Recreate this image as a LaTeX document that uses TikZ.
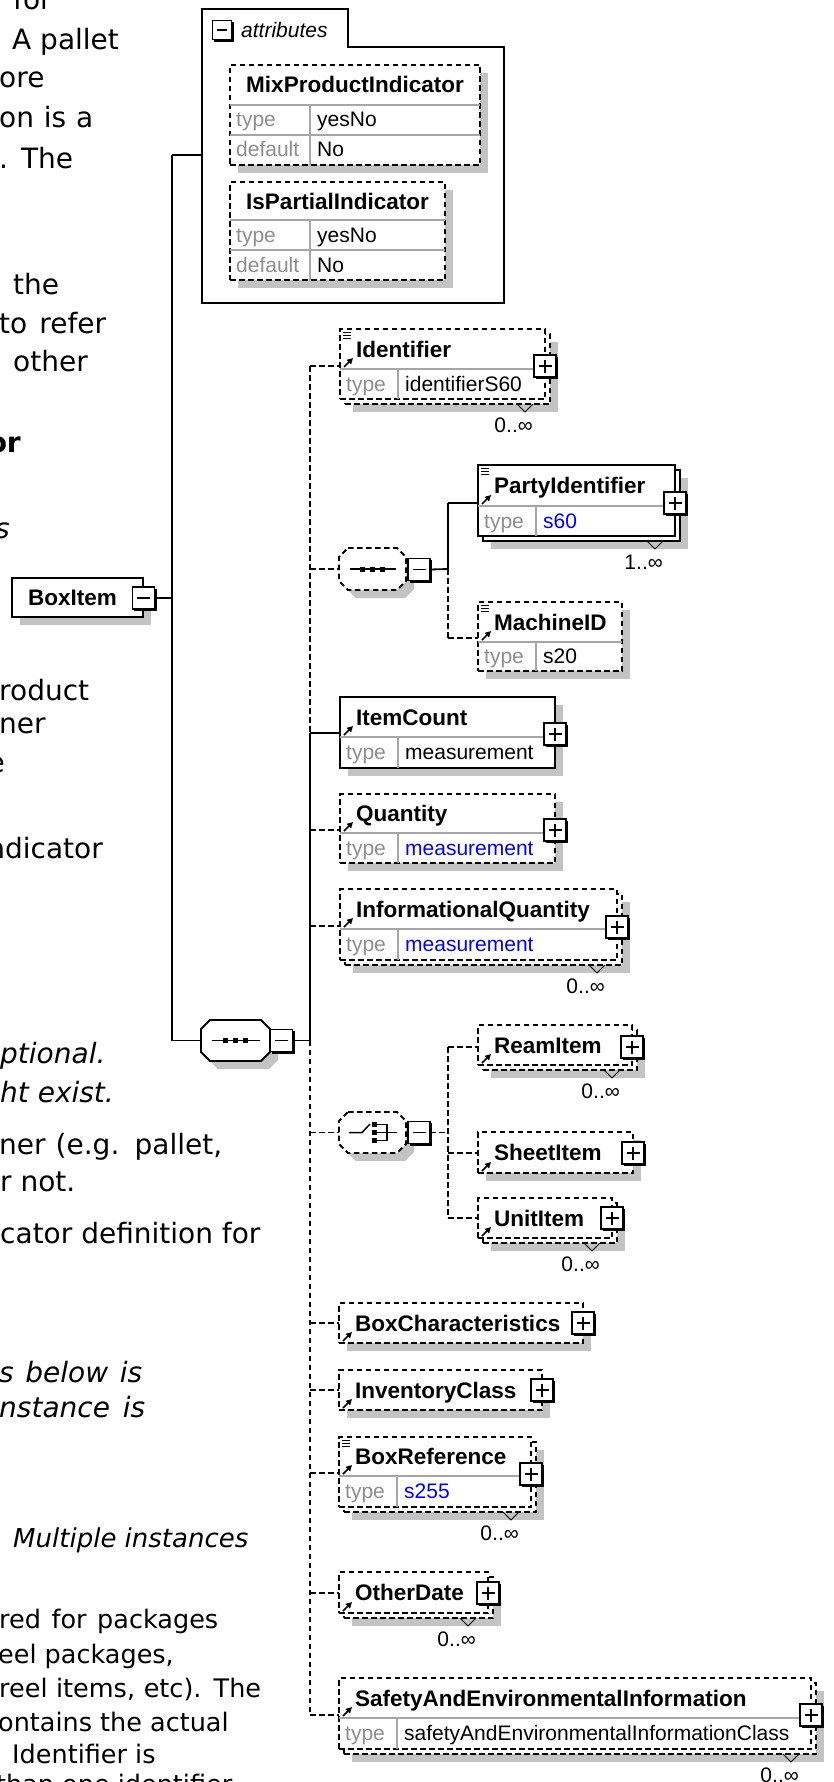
\documentclass[tikz,border=0pt]{standalone}
\usepackage{fontspec}
\setmainfont{Liberation Sans}
\newfontfamily\docfont{DejaVu Sans}
\usetikzlibrary{arrows.meta}

\definecolor{shgrey}{HTML}{C3C3C3}
\definecolor{rowgrey}{HTML}{A6A6A6}
\definecolor{tygrey}{HTML}{8E8E8E}
\definecolor{valblue}{HTML}{0000FF}

\tikzset{
 sline/.style={line width=1.8pt},
 dline/.style={line width=1.8pt, dash pattern=on 5.5pt off 3.5pt},
 ebox/.style={draw, fill=white, line width=1.8pt, inner sep=0pt, outer sep=0pt},
 solidb/.style={},
 dashb/.style={dash pattern=on 5.5pt off 3.5pt},
 rowline/.style={draw=rowgrey, line width=1.2pt},
 nametext/.style={inner sep=0pt, font=\fontsize{22.5}{27}\selectfont\bfseries},
 rowtext/.style={inner sep=0pt, font=\fontsize{21}{25}\selectfont},
 doctext/.style={inner sep=0pt, anchor=base west, font=\docfont\fontsize{28}{34}\selectfont},
 docital/.style={doctext, font=\docfont\fontsize{28}{34}\selectfont\itshape},
 docbold/.style={doctext, font=\docfont\fontsize{28}{34}\selectfont\bfseries},
 docsmall/.style={doctext, font=\docfont\fontsize{25.5}{31}\selectfont},
 docsmallit/.style={doctext, font=\docfont\fontsize{26}{31}\selectfont\itshape},
 rcut/.style={anchor=base east},
 iconbox/.style={draw, fill=white, line width=1.6pt, inner sep=0pt, outer sep=0pt},
 iconline/.style={line width=1.6pt},
 refarrow/.style={line width=1.7pt, -{Triangle[length=6pt,width=6pt]}},
 docline/.style={line width=1pt},
 multline/.style={line width=1pt},
 ghost/.style={inner sep=0pt, outer sep=0pt},
}

% single element box: id x1 y1 x2 y2 style
\newcommand\XSingle[6]{%
  \fill[shgrey] (#2+8,#3+8) rectangle (#4+8,#5+8);
  \node[ebox,#6,minimum width={#4pt-#2pt},minimum height={#5pt-#3pt},anchor=north west] (#1) at (#2,#3) {};}
% stacked element box (several occurrences)
\newcommand\XStack[6]{%
  \fill[shgrey] (#2+13,#3+13) rectangle (#4+13,#5+13);
  \node[ebox,#6,minimum width={#4pt-#2pt},minimum height={#5pt-#3pt},anchor=north west] (#1-back) at (#2+5,#3+5) {};
  \node[ebox,#6,minimum width={#4pt-#2pt},minimum height={#5pt-#3pt},anchor=north west] (#1) at (#2,#3) {};}
% type row: id x1 x2 yh y2 value colour
\newcommand\XType[7]{%
  \draw[rowline] (#2,#4) -- (#3,#4);
  \draw[rowline] (#2+58,#4) -- (#2+58,#5);
  \node[rowtext, text=tygrey, anchor=base west] (#1-tl) at (#2+6,{(#4+#5)/2+7}) {type};
  \node[rowtext, text=#7, anchor=base west] (#1-tv) at (#2+65,{(#4+#5)/2+7}) {#6};}
% name: id x1 baseline text
\newcommand\XName[4]{\node[nametext, anchor=base west] (#1-n) at (#2+16,#3) {#4};}
% reference arrow: x1 header bottom
\newcommand\XArrow[2]{\draw[refarrow] (#1+4,#2-2) -- (#1+13,#2-11);}
% documentation icon: x1 y1
\newcommand\XDoc[2]{\draw[docline] (#1+3,#2+3) -- (#1+11,#2+3) (#1+3,#2+6) -- (#1+11,#2+6) (#1+3,#2+9) -- (#1+11,#2+9);}
% plus icon: id cx cy
\newcommand\XPlus[3]{%
  \node[iconbox, minimum size=22pt] (#1) at (#2,#3) {};
  \draw[iconline] (#2+12.3,#3-9.5) -- (#2+12.3,#3+12.3) -- (#2-9.5,#3+12.3);
  \draw[iconline] (#2-6.5,#3) -- (#2+6.5,#3) (#2,#3-6.5) -- (#2,#3+6.5);}
% minus icon: id cx cy halfsize
\newcommand\XMinus[4]{%
  \node[iconbox, minimum size={2*#4pt}] (#1) at (#2,#3) {};
  \draw[iconline] (#2+#4+1.3,#3-#4+1.5) -- (#2+#4+1.3,#3+#4+1.3) -- (#2-#4+1.5,#3+#4+1.3);
  \draw[iconline] (#2-#4+4.5,#3) -- (#2+#4-4.5,#3);}
% multiplicity: id backright backbottom text
\newcommand\XMult[4]{%
  \draw[multline] (#2-33,#3) -- (#2-25,#3+8) -- (#2-17,#3);
  \node[rowtext, anchor=base east] (#1-m) at (#2-17,#3+28) {#4};}
% octagon: id x1 y1 x2 y2 style
\newcommand\XOct[6]{%
  \fill[shgrey] (#2+17,#3+8) -- (#4-1,#3+8) -- (#4+8,#3+17) -- (#4+8,#5-1) -- (#4-1,#5+8) -- (#2+17,#5+8) -- (#2+8,#5-1) -- (#2+8,#3+17) -- cycle;
  \draw[line width=1.8pt, fill=white, #6] (#2+9,#3) -- (#4-9,#3) -- (#4,#3+9) -- (#4,#5-9) -- (#4-9,#5) -- (#2+9,#5) -- (#2,#5-9) -- (#2,#3+9) -- cycle;
  \node[ghost, minimum width={#4pt-#2pt}, minimum height={#5pt-#3pt}, anchor=north west] (#1) at (#2,#3) {};}
% sequence icon: x1 x2 cy
\newcommand\XSeqIcon[3]{%
  \draw[line width=1.5pt] (#1+11,#3) -- (#2-10,#3);
  \fill ({(#1+#2)/2-12.5},#3-2.5) rectangle ++(5,5);
  \fill ({(#1+#2)/2-2.5},#3-2.5) rectangle ++(5,5);
  \fill ({(#1+#2)/2+7.5},#3-2.5) rectangle ++(5,5);}

\begin{document}
\begin{tikzpicture}[x=1pt,y=-1pt]
\useasboundingbox (0,0) rectangle (834,1782);
\clip (0,0) rectangle (834,1782);

% ---------- document text cut by the diagram ----------
\node[doctext] (d1) at (13,10) {for};
\node[doctext] (d2) at (12,50) {A pallet};
\node[doctext] (d3) at (-1,88) {ore};
\node[doctext] (d4) at (-1,128) {\makebox[94pt][s]{on is a}};
\node[doctext] (d5) at (-1,168) {\makebox[74pt][s]{. The}};
\node[doctext] (d6) at (13,294) {the};
\node[doctext] (d7) at (-1,333) {\makebox[107pt][s]{to refer}};
\node[doctext] (d8) at (13,371) {other};
\node[docbold, rcut] (d9) at (21,452) {or};
\node[docital, rcut] (d10) at (10,538) {s};
\node[doctext] (d11) at (-1,700) {roduct};
\node[doctext] (d12) at (-1,733) {ner};
\node[doctext, rcut] (d13) at (5,772) {e};
\node[doctext, rcut] (d14) at (103,858) {ndicator};
\node[docital] (d15) at (0,1063) {ptional.};
\node[docital] (d16) at (0,1102) {ht exist.};
\node[doctext] (d17) at (-1,1154) {\makebox[223pt][s]{ner (e.g. pallet,}};
\node[doctext] (d18) at (0,1191) {r not.};
\node[doctext] (d19) at (0,1243) {cator definition for};
\node[docital] (d20) at (-1,1382) {\makebox[143pt][s]{s below is}};
\node[docital] (d21) at (-1,1417) {\makebox[146pt][s]{nstance is}};
\node[docsmallit] (d22) at (13,1547) {Multiple instances};
\node[docsmall] (d23) at (-1,1628) {\makebox[219pt][s]{red for packages}};
\node[docsmall] (d24) at (-2,1663) {eel packages,};
\node[docsmall] (d25) at (-1,1697) {\makebox[262pt][s]{reel items, etc). The}};
\node[docsmall] (d26) at (-2,1731) {ontains the actual};
\node[docsmall] (d27) at (12,1763) {Identifier is};
\node[docsmall] (d28) at (-4,1793) {than one identifier};

% ---------- junction coordinates ----------
\coordinate (j0) at (172,155);
\coordinate (j1) at (172,598);
\coordinate (j2) at (172,1040.5);
\coordinate (tA) at (310,366);
\coordinate (tB) at (310,569);
\coordinate (tC) at (310,733);
\coordinate (tD) at (310,830);
\coordinate (tE) at (310,926);
\coordinate (tF) at (310,1040.5);
\coordinate (tG) at (310,1132.5);
\coordinate (tH) at (310,1323);
\coordinate (tI) at (310,1390);
\coordinate (tJ) at (310,1473);
\coordinate (tK) at (310,1593);
\coordinate (tL) at (310,1715);
\coordinate (iA) at (448,503);
\coordinate (iB) at (448,569);
\coordinate (iC) at (448,638);
\coordinate (cA) at (448,1047);
\coordinate (cB) at (448,1132.5);
\coordinate (cC) at (448,1153);
\coordinate (cD) at (448,1218);

% ---------- attributes ----------
\draw[sline, fill=white] (202,303) -- (202,9) -- (348,9) -- (348,47) -- (504,47) -- (504,303) -- cycle;
\node[ghost, minimum width=302pt, minimum height=294pt, anchor=north west] (attr) at (202,9) {};
\XMinus{attr-m}{222}{30}{9.5}
\node[inner sep=0pt, anchor=west, font=\fontsize{21}{25}\selectfont\itshape] (attr-t) at (241,30) {attributes};

\XSingle{mix}{230}{65}{480}{165}{dashb}
\draw[rowline] (230,105) -- (480,105) (230,135) -- (480,135) (310,105) -- (310,165);
\node[nametext, anchor=base] (mix-n) at (355,93) {MixProductIndicator};
\node[rowtext, text=tygrey, anchor=base west] (mix-tl) at (236,127) {type};
\node[rowtext, anchor=base west] (mix-tv) at (317,127) {yesNo};
\node[rowtext, text=tygrey, anchor=base west] (mix-dl) at (236,157) {default};
\node[rowtext, anchor=base west] (mix-dv) at (317,157) {No};

\XSingle{partial}{230}{182}{445}{280}{dashb}
\draw[rowline] (230,220) -- (445,220) (230,250) -- (445,250) (310,220) -- (310,280);
\node[nametext, anchor=base] (partial-n) at (337.5,209) {IsPartialIndicator};
\node[rowtext, text=tygrey, anchor=base west] (partial-tl) at (236,242) {type};
\node[rowtext, anchor=base west] (partial-tv) at (317,242) {yesNo};
\node[rowtext, text=tygrey, anchor=base west] (partial-dl) at (236,272) {default};
\node[rowtext, anchor=base west] (partial-dv) at (317,272) {No};

% ---------- BoxItem ----------
\fill[shgrey] (20,586) rectangle (151,625);
\node[ebox, minimum width=131pt, minimum height=39pt, anchor=north west] (boxitem) at (12,578) {};
\node[nametext, anchor=base west] (boxitem-n) at (28,605) {BoxItem};
\XMinus{boxitem-m}{143.5}{598}{11}

% ---------- main sequence ----------
\XOct{mseq}{201}{1020}{270}{1061}{solidb}
\XSeqIcon{201}{270}{1040.5}
\XMinus{mseq-m}{281.5}{1040.5}{11}

% ---------- connectors of BoxItem ----------
\draw[sline] (j0) -- (j2);
\draw[sline] (j0) -- (attr.west |- j0);
\draw[sline] (boxitem-m.east) -- (j1);
\draw[sline] (j2) -- (mseq.west);
\draw[sline] (mseq-m.east) -- (tF);
\draw[dline] (tA) -- (tC);
\draw[sline] (tC) -- (tF);
\draw[dline] (tF) -- (tL);

% ---------- Identifier ----------
\XStack{ident}{340}{329}{545}{399}{dashb}
\XType{ident}{340}{545}{369}{399}{identifierS60}{black}
\XDoc{340}{329}
\XName{ident}{340}{357}{Identifier}
\XArrow{340}{369}
\XPlus{ident-p}{545}{366}
\XMult{ident}{550}{404}{0..∞}
\draw[dline] (tA) -- (ident.west |- tA);

% ---------- inner sequence ----------
\XOct{iseq}{339}{548}{406}{590}{dashb}
\XSeqIcon{339}{406}{569}
\XMinus{iseq-m}{419}{569.5}{11}
\draw[dline] (tB) -- (iseq.west);
\draw[sline] (iseq-m.east) -- (iB);
\draw[sline] (iA) -- (iB);
\draw[dline] (iB) -- (iC);

\XStack{party}{478}{465}{675}{536}{solidb}
\XType{party}{478}{675}{506}{536}{s60}{valblue}
\XDoc{478}{465}
\XName{party}{478}{493.5}{PartyIdentifier}
\XArrow{478}{506}
\XPlus{party-p}{675}{503}
\XMult{party}{680}{541}{1..∞}
\draw[sline] (iA) -- (party.west |- iA);

\XSingle{machine}{478}{602}{622}{671}{dashb}
\XType{machine}{478}{622}{642}{671}{s20}{black}
\XDoc{478}{602}
\XName{machine}{478}{630}{MachineID}
\XArrow{478}{642}
\draw[dline] (iC) -- (machine.west |- iC);

% ---------- ItemCount ----------
\XSingle{itemcount}{340}{697}{555}{768}{solidb}
\XType{itemcount}{340}{555}{737}{768}{measurement}{black}
\XName{itemcount}{340}{725}{ItemCount}
\XArrow{340}{737}
\XPlus{itemcount-p}{555}{734}
\draw[sline] (tC) -- (itemcount.west |- tC);

% ---------- Quantity ----------
\XSingle{quantity}{340}{794}{555}{863}{dashb}
\XType{quantity}{340}{555}{833}{863}{measurement}{valblue}
\XName{quantity}{340}{821.5}{Quantity}
\XArrow{340}{833}
\XPlus{quantity-p}{555}{830}
\draw[dline] (tD) -- (quantity.west |- tD);

% ---------- InformationalQuantity ----------
\XStack{infoqty}{340}{889}{617}{960}{dashb}
\XType{infoqty}{340}{617}{929}{960}{measurement}{valblue}
\XName{infoqty}{340}{917}{InformationalQuantity}
\XArrow{340}{929}
\XPlus{infoqty-p}{617}{927}
\XMult{infoqty}{622}{965}{0..∞}
\draw[dline] (tE) -- (infoqty.west |- tE);

% ---------- choice ----------
\XOct{choice}{339}{1112}{406}{1153}{dashb}
\draw[line width=1.5pt] (349,1132.5) -- (362,1132.5) -- (370,1124);
\fill (372,1122) rectangle ++(5,5);
\fill (372,1130) rectangle ++(5,5);
\fill (372,1138) rectangle ++(5,5);
\draw[line width=1.5pt] (377,1124.5) -- (387,1124.5) -- (387,1140.5) -- (377,1140.5);
\draw[line width=1.5pt] (377,1132.5) -- (397,1132.5);
\XMinus{choice-m}{419}{1132.5}{11}
\draw[dline] (tG) -- (choice.west);
\draw[dline] (choice-m.east) -- (cB);
\draw[dline] (cA) -- (cD);

\XStack{ream}{478}{1025}{632}{1065}{dashb}
\XName{ream}{478}{1053}{ReamItem}
\XArrow{478}{1065}
\XPlus{ream-p}{632}{1047}
\XMult{ream}{637}{1070}{0..∞}
\draw[dline] (cA) -- (ream.west |- cA);

\XSingle{sheet}{478}{1132}{633}{1173}{dashb}
\XName{sheet}{478}{1160.5}{SheetItem}
\XArrow{478}{1173}
\XPlus{sheet-p}{633}{1153}
\draw[dline] (cC) -- (sheet.west |- cC);

\XStack{unit}{478}{1198}{612}{1238}{dashb}
\XName{unit}{478}{1226}{UnitItem}
\XArrow{478}{1238}
\XPlus{unit-p}{612}{1218}
\XMult{unit}{617}{1243}{0..∞}
\draw[dline] (cD) -- (unit.west |- cD);

% ---------- remaining children ----------
\XSingle{boxchar}{339}{1303}{583}{1343}{dashb}
\XName{boxchar}{339}{1331}{BoxCharacteristics}
\XArrow{339}{1343}
\XPlus{boxchar-p}{583}{1323}
\draw[dline] (tH) -- (boxchar.west |- tH);

\XSingle{invclass}{339}{1370}{542}{1410}{dashb}
\XName{invclass}{339}{1398}{InventoryClass}
\XArrow{339}{1410}
\XPlus{invclass-p}{542}{1390}
\draw[dline] (tI) -- (invclass.west |- tI);

\XStack{boxref}{339}{1437}{531}{1507}{dashb}
\XType{boxref}{339}{531}{1476}{1507}{s255}{valblue}
\XDoc{339}{1437}
\XName{boxref}{339}{1464.5}{BoxReference}
\XArrow{339}{1476}
\XPlus{boxref-p}{531}{1474}
\XMult{boxref}{536}{1512}{0..∞}
\draw[dline] (tJ) -- (boxref.west |- tJ);

\XStack{otherdate}{339}{1572}{488}{1613}{dashb}
\XName{otherdate}{339}{1600.5}{OtherDate}
\XArrow{339}{1613}
\XPlus{otherdate-p}{488}{1593}
\XMult{otherdate}{493}{1618}{0..∞}
\draw[dline] (tK) -- (otherdate.west |- tK);

\XStack{safety}{339}{1678}{811}{1749}{dashb}
\XType{safety}{339}{811}{1718}{1749}{safetyAndEnvironmentalInformationClass}{black}
\XName{safety}{339}{1706}{SafetyAndEnvironmentalInformation}
\XArrow{339}{1718}
\XPlus{safety-p}{811}{1715}
\XMult{safety}{816}{1754}{0..∞}
\draw[dline] (tL) -- (safety.west |- tL);
\end{tikzpicture}
\end{document}
